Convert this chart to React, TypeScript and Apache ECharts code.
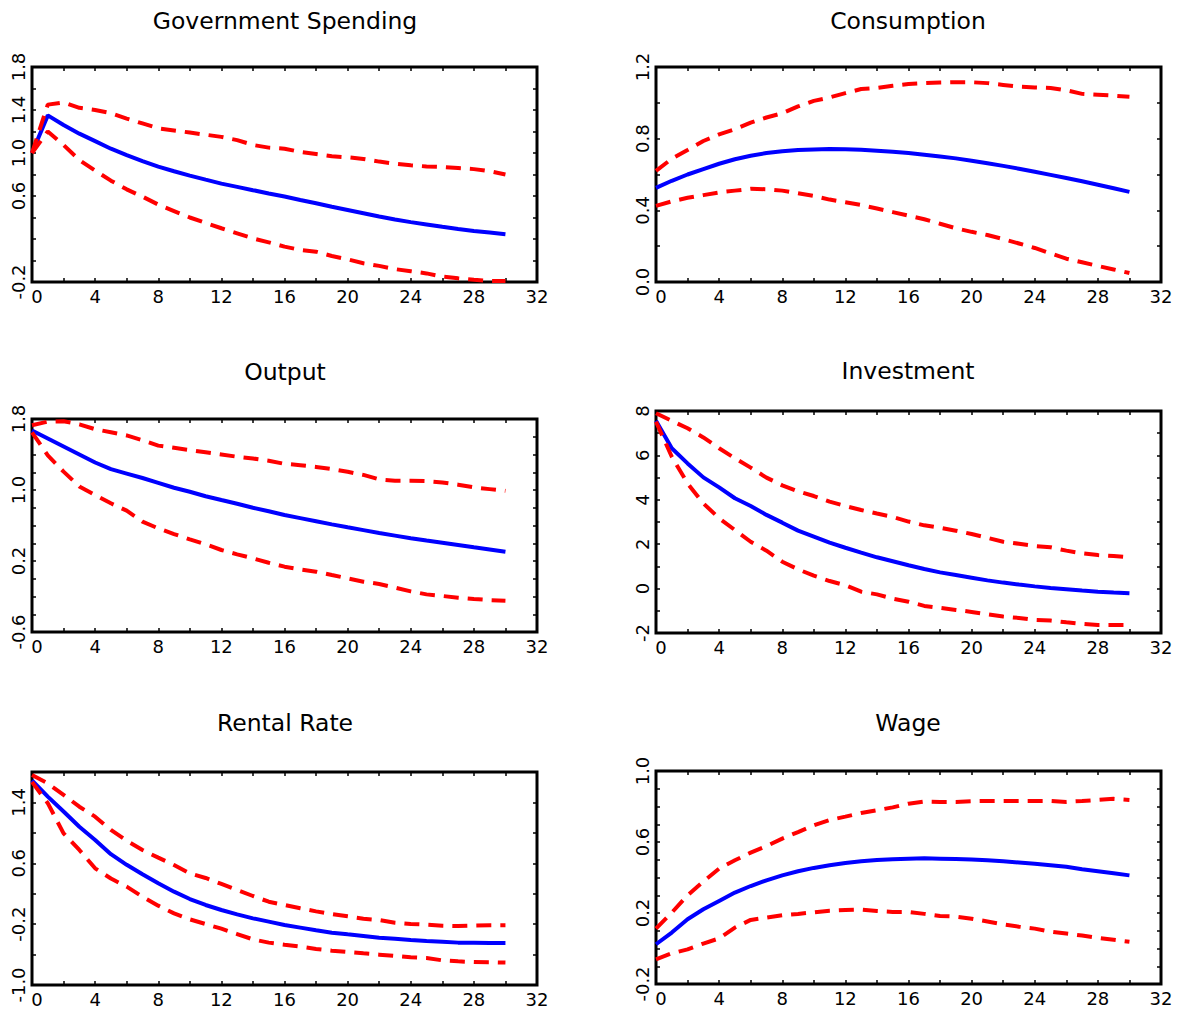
import React, { useEffect, useRef } from "react";
import * as echarts from "echarts";

const HORIZON = [0, 1, 2, 3, 4, 5, 6, 7, 8, 9, 10, 11, 12, 13, 14, 15, 16, 17, 18, 19, 20, 21, 22, 23, 24, 25, 26, 27, 28, 29, 30];
const X_TICK_LABELS = [0, 4, 8, 12, 16, 20, 24, 28, 32];

const TITLES = ["Government Spending", "Consumption", "Output", "Investment", "Rental Rate", "Wage"];

// Government spending
const GOV_MEDIAN = [1.0, 1.35, 1.26, 1.18, 1.11, 1.04, 0.98, 0.925, 0.873, 0.83, 0.79, 0.752, 0.715, 0.685, 0.654, 0.624, 0.595, 0.563, 0.532, 0.5, 0.47, 0.44, 0.41, 0.382, 0.357, 0.335, 0.313, 0.293, 0.275, 0.26, 0.245];
const GOV_UPPER = [1.0, 1.45, 1.47, 1.42, 1.4, 1.37, 1.32, 1.275, 1.23, 1.21, 1.19, 1.17, 1.15, 1.12, 1.075, 1.05, 1.04, 1.01, 0.99, 0.97, 0.96, 0.945, 0.92, 0.9, 0.885, 0.875, 0.87, 0.86, 0.85, 0.83, 0.8];
const GOV_LOWER = [1.0, 1.2, 1.074, 0.935, 0.836, 0.743, 0.662, 0.594, 0.52, 0.46, 0.4, 0.35, 0.3, 0.253, 0.206, 0.169, 0.129, 0.098, 0.082, 0.042, 0.011, -0.026, -0.05, -0.08, -0.1, -0.12, -0.15, -0.166, -0.18, -0.19, -0.19];
const GOV_Y_LABELS = [-0.2, 0.6, 1.0, 1.4, 1.8];

// Consumption
const CONS_MEDIAN = [0.525, 0.565, 0.6, 0.63, 0.66, 0.685, 0.705, 0.72, 0.73, 0.737, 0.74, 0.742, 0.741, 0.738, 0.733, 0.727, 0.72, 0.71, 0.7, 0.69, 0.677, 0.663, 0.648, 0.632, 0.615, 0.598, 0.58, 0.562, 0.543, 0.523, 0.503];
const CONS_UPPER = [0.62, 0.688, 0.737, 0.787, 0.824, 0.853, 0.89, 0.918, 0.942, 0.98, 1.011, 1.03, 1.054, 1.077, 1.083, 1.095, 1.105, 1.11, 1.113, 1.115, 1.115, 1.11, 1.1, 1.09, 1.086, 1.083, 1.07, 1.05, 1.045, 1.04, 1.034];
const CONS_LOWER = [0.425, 0.45, 0.47, 0.485, 0.5, 0.51, 0.52, 0.518, 0.51, 0.495, 0.48, 0.46, 0.445, 0.43, 0.41, 0.39, 0.37, 0.35, 0.325, 0.3, 0.28, 0.262, 0.24, 0.215, 0.19, 0.16, 0.13, 0.11, 0.09, 0.07, 0.05];
const CONS_Y_LABELS = [0.0, 0.4, 0.8, 1.2];

// Output
const OUT_MEDIAN = [1.67, 1.58, 1.49, 1.4, 1.31, 1.235, 1.185, 1.135, 1.08, 1.025, 0.98, 0.93, 0.887, 0.845, 0.8, 0.76, 0.718, 0.683, 0.648, 0.613, 0.58, 0.548, 0.516, 0.486, 0.456, 0.43, 0.405, 0.38, 0.354, 0.33, 0.305];
const OUT_UPPER = [1.73, 1.77, 1.775, 1.74, 1.685, 1.65, 1.615, 1.56, 1.5, 1.475, 1.45, 1.425, 1.4, 1.375, 1.355, 1.33, 1.295, 1.28, 1.26, 1.235, 1.205, 1.17, 1.12, 1.105, 1.105, 1.1, 1.085, 1.06, 1.03, 1.01, 0.99];
const OUT_LOWER = [1.65, 1.39, 1.207, 1.04, 0.944, 0.85, 0.767, 0.643, 0.568, 0.504, 0.444, 0.388, 0.324, 0.275, 0.23, 0.18, 0.136, 0.106, 0.08, 0.042, 0.005, -0.033, -0.059, -0.1, -0.142, -0.176, -0.194, -0.213, -0.228, -0.24, -0.247];
const OUT_Y_LABELS = [-0.6, 0.2, 1.0, 1.8];

// Investment
const INV_MEDIAN = [7.56, 6.32, 5.64, 5.01, 4.56, 4.07, 3.72, 3.32, 2.97, 2.61, 2.34, 2.07, 1.84, 1.62, 1.41, 1.23, 1.05, 0.88, 0.73, 0.61, 0.49, 0.37, 0.27, 0.18, 0.1, 0.03, -0.03, -0.09, -0.14, -0.18, -0.21];
const INV_UPPER = [7.9, 7.56, 7.22, 6.81, 6.32, 5.87, 5.45, 5.0, 4.65, 4.38, 4.17, 3.92, 3.72, 3.54, 3.38, 3.23, 3.02, 2.85, 2.74, 2.61, 2.46, 2.29, 2.11, 2.02, 1.92, 1.86, 1.71, 1.59, 1.51, 1.47, 1.41];
const INV_LOWER = [7.52, 5.94, 4.74, 3.84, 3.17, 2.64, 2.11, 1.71, 1.21, 0.87, 0.58, 0.34, 0.15, -0.14, -0.26, -0.45, -0.59, -0.78, -0.87, -0.96, -1.05, -1.16, -1.26, -1.32, -1.41, -1.44, -1.52, -1.59, -1.64, -1.64, -1.64];
const INV_Y_LABELS = [-2, 0, 2, 4, 6, 8];

// Rental rate
const RENT_MEDIAN = [1.69, 1.476, 1.28, 1.08, 0.906, 0.72, 0.58, 0.455, 0.337, 0.227, 0.13, 0.052, -0.014, -0.071, -0.124, -0.167, -0.211, -0.246, -0.281, -0.312, -0.334, -0.356, -0.378, -0.391, -0.408, -0.422, -0.43, -0.443, -0.443, -0.447, -0.447];
const RENT_UPPER = [1.76, 1.65, 1.5, 1.344, 1.213, 1.038, 0.897, 0.775, 0.674, 0.577, 0.468, 0.407, 0.328, 0.249, 0.17, 0.095, 0.052, 0.008, -0.032, -0.067, -0.097, -0.128, -0.146, -0.181, -0.198, -0.207, -0.22, -0.225, -0.22, -0.215, -0.215];
const RENT_LOWER = [1.67, 1.39, 0.994, 0.775, 0.534, 0.4, 0.293, 0.161, 0.043, -0.058, -0.137, -0.198, -0.26, -0.33, -0.4, -0.443, -0.47, -0.496, -0.527, -0.549, -0.566, -0.584, -0.601, -0.619, -0.636, -0.645, -0.676, -0.689, -0.698, -0.7, -0.705];
const RENT_Y_LABELS = [-1.0, -0.2, 0.6, 1.4];

// Wage
const WAGE_MEDIAN = [0.024, 0.09, 0.165, 0.221, 0.268, 0.315, 0.352, 0.384, 0.412, 0.435, 0.454, 0.469, 0.482, 0.491, 0.499, 0.503, 0.506, 0.508, 0.506, 0.504, 0.501, 0.497, 0.491, 0.484, 0.477, 0.469, 0.46, 0.446, 0.435, 0.424, 0.412];
const WAGE_UPPER = [0.112, 0.202, 0.3, 0.377, 0.45, 0.497, 0.54, 0.577, 0.619, 0.656, 0.694, 0.724, 0.743, 0.763, 0.779, 0.795, 0.816, 0.828, 0.826, 0.826, 0.83, 0.831, 0.831, 0.831, 0.831, 0.831, 0.826, 0.831, 0.837, 0.843, 0.837];
const WAGE_LOWER = [-0.061, -0.027, -0.005, 0.028, 0.057, 0.118, 0.161, 0.174, 0.187, 0.195, 0.204, 0.213, 0.217, 0.219, 0.211, 0.206, 0.206, 0.195, 0.183, 0.18, 0.168, 0.152, 0.136, 0.123, 0.112, 0.095, 0.084, 0.073, 0.06, 0.049, 0.038];
const WAGE_Y_LABELS = [-0.2, 0.2, 0.6, 1.0];

const MEDIANS = [GOV_MEDIAN, CONS_MEDIAN, OUT_MEDIAN, INV_MEDIAN, RENT_MEDIAN, WAGE_MEDIAN];
const UPPERS = [GOV_UPPER, CONS_UPPER, OUT_UPPER, INV_UPPER, RENT_UPPER, WAGE_UPPER];
const LOWERS = [GOV_LOWER, CONS_LOWER, OUT_LOWER, INV_LOWER, RENT_LOWER, WAGE_LOWER];
const Y_LABELS = [GOV_Y_LABELS, CONS_Y_LABELS, OUT_Y_LABELS, INV_Y_LABELS, RENT_Y_LABELS, WAGE_Y_LABELS];
const Y_MIN = [-0.2, 0.0, -0.6, -2, -1.0, -0.2];
const Y_MAX = [1.8, 1.2, 1.8, 8, 1.8, 1.0];
const Y_STEP = [0.2, 0.2, 0.2, 1, 0.4, 0.1];
const Y_DECIMALS = [1, 1, 1, 0, 1, 1];

// layout (pixels)
const GRIDS = [
  { left: 32, top: 67, width: 505, height: 215 },
  { left: 656, top: 67, width: 505, height: 215 },
  { left: 32, top: 419, width: 505, height: 213 },
  { left: 656, top: 411, width: 505, height: 222 },
  { left: 32, top: 772, width: 505, height: 213 },
  { left: 656, top: 771, width: 505, height: 213 },
];
const TITLE_POS = [
  { x: 285, y: 21 },
  { x: 908, y: 21 },
  { x: 285, y: 372 },
  { x: 908, y: 371 },
  { x: 285, y: 723 },
  { x: 908, y: 723 },
];

const FONT = "DejaVu Sans";

export default function App() {
  const ref = useRef<HTMLDivElement>(null);

  useEffect(() => {
    if (!ref.current) return;
    const chart = echarts.init(ref.current, null, { renderer: "svg" });

    const tick = { show: true, inside: true, length: 4, lineStyle: { color: "#000", width: 1.5 } };
    const grid: any[] = [];
    const xAxis: any[] = [];
    const yAxis: any[] = [];
    const series: any[] = [];

    for (let i = 0; i < 6; i++) {
      grid.push({ ...GRIDS[i], show: true, borderColor: "#000", borderWidth: 3, backgroundColor: "transparent" });
      xAxis.push({
        gridIndex: i, type: "value", position: "bottom", min: 0, max: 32, interval: 2,
        axisLine: { show: false, onZero: false }, axisTick: tick, splitLine: { show: false },
        axisLabel: {
          show: true, color: "#000", fontFamily: FONT, fontSize: 18, margin: 5,
          formatter: (v: number) => {
            if (!X_TICK_LABELS.some((t) => Math.abs(t - v) < 1e-6)) return "";
            const s = String(Math.round(v));
            return Math.abs(v) < 1e-6 ? `{first|${s}}` : s;
          },
          rich: { first: { padding: [0, 0, 0, 10], fontFamily: FONT, fontSize: 18, color: "#000" } },
        },
      });
      xAxis.push({
        gridIndex: i, type: "value", position: "top", min: 0, max: 32, interval: 2,
        axisLine: { show: false, onZero: false }, axisTick: tick, splitLine: { show: false },
        axisLabel: { show: false },
      });
      const labels = Y_LABELS[i];
      const dec = Y_DECIMALS[i];
      yAxis.push({
        gridIndex: i, type: "value", position: "left", min: Y_MIN[i], max: Y_MAX[i], interval: Y_STEP[i],
        axisLine: { show: false, onZero: false }, axisTick: tick, splitLine: { show: false },
        axisLabel: {
          show: true, rotate: 90, color: "#000", fontFamily: FONT, fontSize: 18, margin: 5,
          formatter: (v: number) => {
            const hit = labels.find((l) => Math.abs(l - v) < 1e-6);
            return hit === undefined ? "" : hit.toFixed(dec);
          },
        },
      });
      yAxis.push({
        gridIndex: i, type: "value", position: "right", min: Y_MIN[i], max: Y_MAX[i], interval: Y_STEP[i],
        axisLine: { show: false, onZero: false }, axisTick: tick, splitLine: { show: false },
        axisLabel: { show: false },
      });

      const mk = (arr: number[]) => HORIZON.map((h, k) => [h, arr[k]]);
      series.push({
        type: "line", xAxisIndex: 2 * i, yAxisIndex: 2 * i, data: mk(MEDIANS[i]),
        symbol: "none", showSymbol: false, lineStyle: { color: "#0000ff", width: 4 }, z: 3,
      });
      series.push({
        type: "line", xAxisIndex: 2 * i, yAxisIndex: 2 * i, data: mk(UPPERS[i]),
        symbol: "none", showSymbol: false, lineStyle: { color: "#ff0000", width: 4, type: [15, 9] }, z: 4,
      });
      series.push({
        type: "line", xAxisIndex: 2 * i, yAxisIndex: 2 * i, data: mk(LOWERS[i]),
        symbol: "none", showSymbol: false, lineStyle: { color: "#ff0000", width: 4, type: [15, 9] }, z: 4,
      });
    }

    const graphic = TITLES.map((t, i) => ({
      type: "text", x: TITLE_POS[i].x, y: TITLE_POS[i].y,
      style: { text: t, align: "center", verticalAlign: "middle", fill: "#000", font: `23.5px '${FONT}'` },
    }));

    chart.setOption({
      animation: false,
      backgroundColor: "#ffffff",
      grid, xAxis, yAxis, series, graphic,
    });

    return () => chart.dispose();
  }, []);

  return <div ref={ref} style={{ position: "absolute", left: 0, top: 0, width: 1177, height: 1012 }} />;
}
